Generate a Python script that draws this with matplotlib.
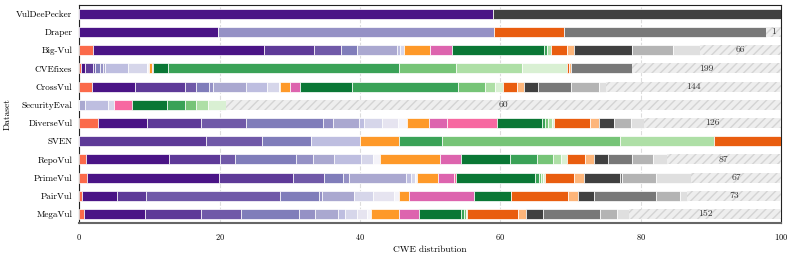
import matplotlib
matplotlib.use('Agg')
import matplotlib.pyplot as plt
import numpy as np

plt.rcParams['font.family'] = 'serif'
plt.rcParams['font.serif'] = ['cmr10', 'DejaVu Serif']
plt.rcParams['axes.formatter.use_mathtext'] = True
plt.rcParams['hatch.linewidth'] = 1.0

#------------------------------------------------
# data (percent of each CWE group per dataset)
#------------------------------------------------
datasets = ['VulDeePecker', 'Draper', 'Big-Vul', 'CVEfixes', 'CrossVul', 'SecurityEval',
            'DiverseVul', 'SVEN', 'RepoVul', 'PrimeVul', 'PairVul', 'MegaVul']

groups = ['C0', 'P1', 'P2', 'P3', 'P4', 'P5', 'P6', 'P7', 'P8', 'P9', 'P10',
          'O1', 'K1', 'K2', 'G1', 'G2', 'G3', 'G4', 'G5', 'R1', 'R2', 'Y1', 'Y2', 'Y3', 'Y4']

colors = ['#fb6a4a', '#4a1486', '#5e3a98', '#7059a8', '#807dba', '#9591c5', '#aaa8d0',
          '#bebee0', '#d6d6ea', '#e6e4f0', '#f4f3f9', '#fe9929', '#dd64ae', '#f768a1',
          '#0a7735', '#3aa257', '#76c477', '#aedfa6', '#d9f0d3', '#e95d0f', '#fdb57a',
          '#404040', '#787878', '#b4b4b4', '#dfdfdf']

#                C0   P1    P2    P3    P4   P5   P6   P7   P8   P9   P10  O1   K1   K2   G1    G2    G3    G4    G5   R1   R2   Y1    Y2   Y3   Y4
vuldeepecker = [0,   58.9, 0,    0,    0,   0,   0,   0,   0,   0,   0,   0,   0,   0,   0,    0,    0,    0,    0,   0,   0,   41.1, 0,   0,   0]
draper       = [0,   19.8, 0,    0,    0,   39.3, 0, 0,   0,   0,   0,   0,   0,   0,   0,    0,    0,    0,    0,   10.0, 0,  0,    28.8, 0,  0]
bigvul       = [2.0, 24.3, 7.1,  3.9,  2.2, 0,   5.8, 0.4, 0.5, 0,   0.1, 3.6, 3.2, 0,   13.1, 0.5,  0,    0.5,  0,   2.3, 1.0, 8.3,  0,   5.8, 3.9]
cvefixes     = [0.2, 0.6,  1.2,  0.3,  0.7, 0.4, 0.2, 3.4, 2.7, 0,   0.2, 0.4, 0,   0.2, 2.2,  32.8, 8.2,  9.4,  6.4, 0.3, 0.3, 0,    8.7, 0,   0]
crossvul     = [1.8, 6.2,  7.1,  1.5,  1.9, 0.5, 4.8, 3.0, 1.6, 0,   0.2, 1.4, 1.5, 0,   7.4,  15.0, 3.9,  1.4,  1.2, 1.9, 1.1, 2.0,  4.7, 3.9, 1.1]
securityeval = [0,   0,    0,    0,    0,   0,   0.8, 3.3, 0.9, 0,   0,   0,   0,   2.5, 5.0,  2.6,  1.5,  1.7,  2.6, 0,   0,   0,    0,   0,   0]
diversevul   = [2.6, 7.0,  7.8,  6.3,  11.0, 1.5, 3.7, 0.6, 2.6, 2.3, 1.3, 3.1, 2.6, 7.1, 6.4,  0.4,  0.5,  0.5,  0.3, 5.2, 1.2, 2.2,  0,   2.4, 1.9]
sven         = [0,   0,    18.1, 7.9,  7.0, 0,   0,   7.0, 0,   0,   0,   5.5, 0,   0,   0,    6.2,  25.4, 13.3, 0,   9.6, 0,   0,    0,   0,   0]
repovul      = [0.9, 11.9, 7.3,  2.1,  8.7, 2.4, 3.0, 3.8, 1.8, 0,   1.0, 8.5, 3.0, 0,   7.0,  3.8,  2.3,  1.2,  0.8, 2.6, 1.2, 2.1,  3.4, 3.0, 1.9]
primevul     = [1.1, 18.85, 10.55, 4.4, 2.7, 0.9, 8.1, 0.6, 0.6, 0,   0.3, 3.0, 2.3, 0.3, 11.2, 0.6,  0.3,  0.3,  0.2, 4.2, 1.4, 5.2,  0.2, 4.9, 5.0]
pairvul      = [0.4, 5.0,  4.1,  19.1, 5.5, 0.5, 4.6, 0,   2.7, 2.9, 0.7, 1.5, 9.3, 0,   5.2,  0,    0,    0,    0,   8.2, 1.3, 2.3,  8.9, 3.4, 1.0]
megavul      = [0.6, 8.8,  8.0,  5.7,  8.2, 2.3, 3.2, 1.0, 1.7, 1.5, 0.6, 3.9, 2.9, 0,   6.0,  0.4,  0.3,  0.2,  0,   7.2, 1.2, 2.4,  8.1, 2.4, 1.7]

rows = [vuldeepecker, draper, bigvul, cvefixes, crossvul, securityeval,
        diversevul, sven, repovul, primevul, pairvul, megavul]

# number of remaining CWEs in the "other" part
other_counts = [0, 1, 66, 199, 144, 60, 126, 0, 87, 67, 73, 152]

#------------------------------------------------
# plot
#------------------------------------------------
fig = plt.figure(figsize=(7.93, 2.54), dpi=100)
ax = fig.add_axes([0.1, 0.121, 0.885, 0.861])

y = np.arange(len(datasets))
h = 0.55
shares = np.array(rows)
left = np.zeros(len(datasets))
for j in range(len(groups)):
    w = shares[:, j]
    ax.barh(y, w, left=left, height=h, color=colors[j], edgecolor='white',
            linewidth=0.5, zorder=3)
    left = left + w

rest = 100 - left
ax.barh(y, rest, left=left, height=h, color='#eeeeee', edgecolor='#d4d4d4',
        hatch='////', linewidth=0, zorder=3)

for i in range(len(datasets)):
    if other_counts[i] > 0:
        ax.text(left[i] + rest[i] / 2, y[i], str(other_counts[i]), ha='center',
                va='center', fontsize=7, color='#333333', zorder=4)

ax.set_xlim(0, 100)
ax.set_ylim(len(datasets) - 0.5, -0.5)
ax.set_yticks(y)
ax.set_yticklabels(datasets, fontsize=6.6)
ax.set_xticks([0, 20, 40, 60, 80, 100])
ax.tick_params(axis='x', labelsize=6, length=0, pad=6)
ax.tick_params(axis='y', length=0, pad=5)
ax.grid(axis='x', linestyle='--', color='#dddddd', linewidth=0.8, zorder=0)
ax.set_axisbelow(True)
ax.set_xlabel('CWE distribution', fontsize=6.8, labelpad=3)
ax.set_ylabel('Dataset', fontsize=6.8, labelpad=3)

for s in ['top', 'right', 'left']:
    ax.spines[s].set_linewidth(0.8)
    ax.spines[s].set_color('#222222')
ax.spines['bottom'].set_linewidth(1.5)
ax.spines['bottom'].set_color('#666666')

fig.savefig('out.png', dpi=100)
